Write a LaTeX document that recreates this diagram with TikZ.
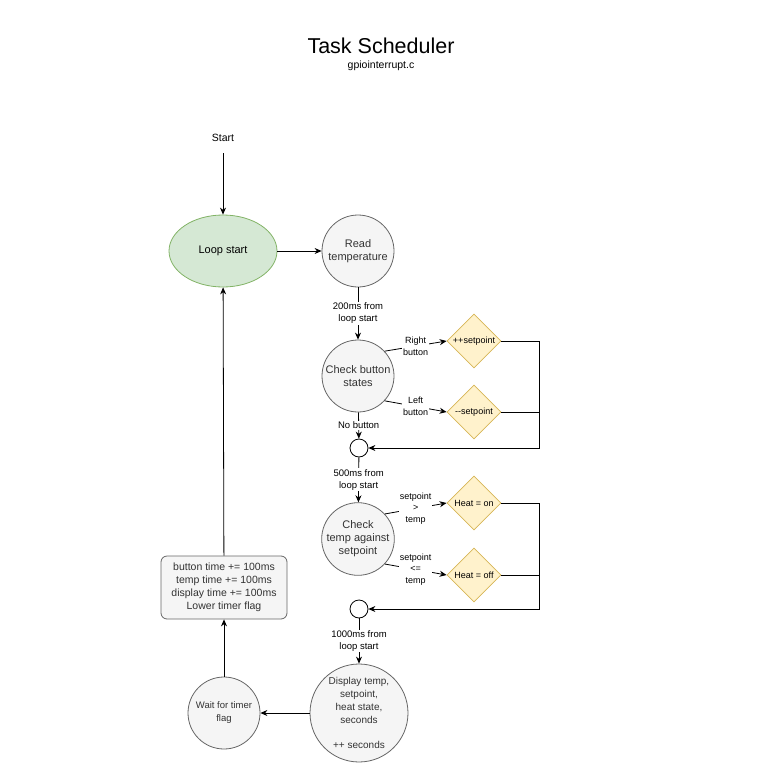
\documentclass[tikz,border=0pt]{standalone}
\usepackage{fontspec}
\setmainfont{Liberation Sans}
\usetikzlibrary{shapes.geometric,arrows.meta}
\definecolor{procfill}{HTML}{F5F5F5}
\definecolor{procdraw}{HTML}{666666}
\definecolor{proctext}{HTML}{333333}
\definecolor{greenfill}{HTML}{D5E8D4}
\definecolor{greendraw}{HTML}{82B366}
\definecolor{decfill}{HTML}{FFF2CC}
\definecolor{decdraw}{HTML}{D6B656}
\begin{document}
\begin{tikzpicture}[x=1pt,y=-1pt,
  proc/.style={circle, draw=procdraw, fill=procfill, text=proctext, minimum size=72, inner sep=0, align=center, font=\fontsize{11}{13}\selectfont, line width=0.8},
  decis/.style={diamond, draw=decdraw, fill=decfill, minimum width=54, minimum height=54, aspect=1, inner sep=0, font=\fontsize{9}{11}\selectfont, line width=0.8},
  lbl/.style={fill=white, inner sep=1, align=center, font=\fontsize{9.5}{12}\selectfont},
  slbl/.style={fill=white, inner sep=1, align=center, font=\fontsize{9}{11.5}\selectfont},
  arr/.style={-{Stealth[length=7,width=6]}, line width=0.8},
  ln/.style={line width=0.8},
  junc/.style={circle, draw=black, fill=white, minimum size=18, inner sep=0, line width=0.8}]
\useasboundingbox (0,0) rectangle (768,781);
\node (title) at (381,46) {\fontsize{21.5}{25}\selectfont Task Scheduler};
\node (sub) at (381,66) {\fontsize{10.5}{12}\selectfont gpiointerrupt.c};

\node[minimum height=30, inner sep=0, font=\fontsize{10.5}{12}\selectfont] (start) at (223,138) {Start};
\node[ellipse, draw=greendraw, fill=greenfill, minimum width=108, minimum height=72, inner sep=0, line width=0.8, font=\fontsize{11}{13}\selectfont] (loop) at (223,251) {Loop start};
\node[proc] (read) at (358,251) {Read\\temperature};
\node[proc] (cb) at (358,376) {Check button\\states};
\node[decis] (inc) at (474,341) {++setpoint};
\node[decis] (dec) at (474,412) {{-}{-}setpoint};
\node[junc] (j1) at (359,448) {};
\node[proc] (ct) at (358,539) {Check\\temp against\\setpoint};
\node[decis] (hon) at (474,503) {Heat = on};
\node[decis] (hoff) at (474,575) {Heat = off};
\node[junc] (j2) at (359,609) {};
\node[proc, minimum size=98, font=\fontsize{10}{13}\selectfont] (disp) at (359,713) {Display temp,\\setpoint,\\heat state,\\seconds\\[12pt]++ seconds};
\node[proc, font=\fontsize{9.5}{13}\selectfont] (wait) at (224,713) {Wait for timer\\flag};
\node[rectangle, rounded corners=6, draw=procdraw, fill=procfill, text=proctext, minimum width=126, minimum height=63, inner sep=0, align=center, line width=0.8, font=\fontsize{10.5}{13}\selectfont] (box) at (224,587.5) {button time += 100ms\\temp time += 100ms\\display time += 100ms\\Lower timer flag};

\coordinate (r1) at (539,448);
\coordinate (r2) at (539,609);

\draw[arr] (start) -- (loop);
\draw[arr] (loop) -- (read);
\draw[arr] (read) -- node[lbl] {200ms from\\loop start} (cb);
\draw[arr] (cb.43) -- node[slbl] {Right\\button} (inc.west);
\draw[arr] (cb.-43) -- node[slbl] {Left\\button} (dec.west);
\draw[arr] (cb) -- node[lbl] {No button} (j1);
\draw[arr] (inc.east) -| (r1) -- (j1);
\draw[ln] (dec.east) -- (dec.east -| r1);
\draw[arr] (j1) -- node[lbl] {500ms from\\loop start} (ct);
\draw[arr] (ct.43) -- node[slbl] {setpoint\\>\\temp} (hon.west);
\draw[arr] (ct.-43) -- node[slbl] {setpoint\\<=\\temp} (hoff.west);
\draw[arr] (hon.east) -| (r2) -- (j2);
\draw[ln] (hoff.east) -- (hoff.east -| r2);
\draw[arr] (j2) -- node[lbl] {1000ms from\\loop start} (disp);
\draw[arr] (disp) -- (wait);
\draw[arr] (wait) -- (box);
\draw[arr] (box) -- (loop);
\end{tikzpicture}
\end{document}
